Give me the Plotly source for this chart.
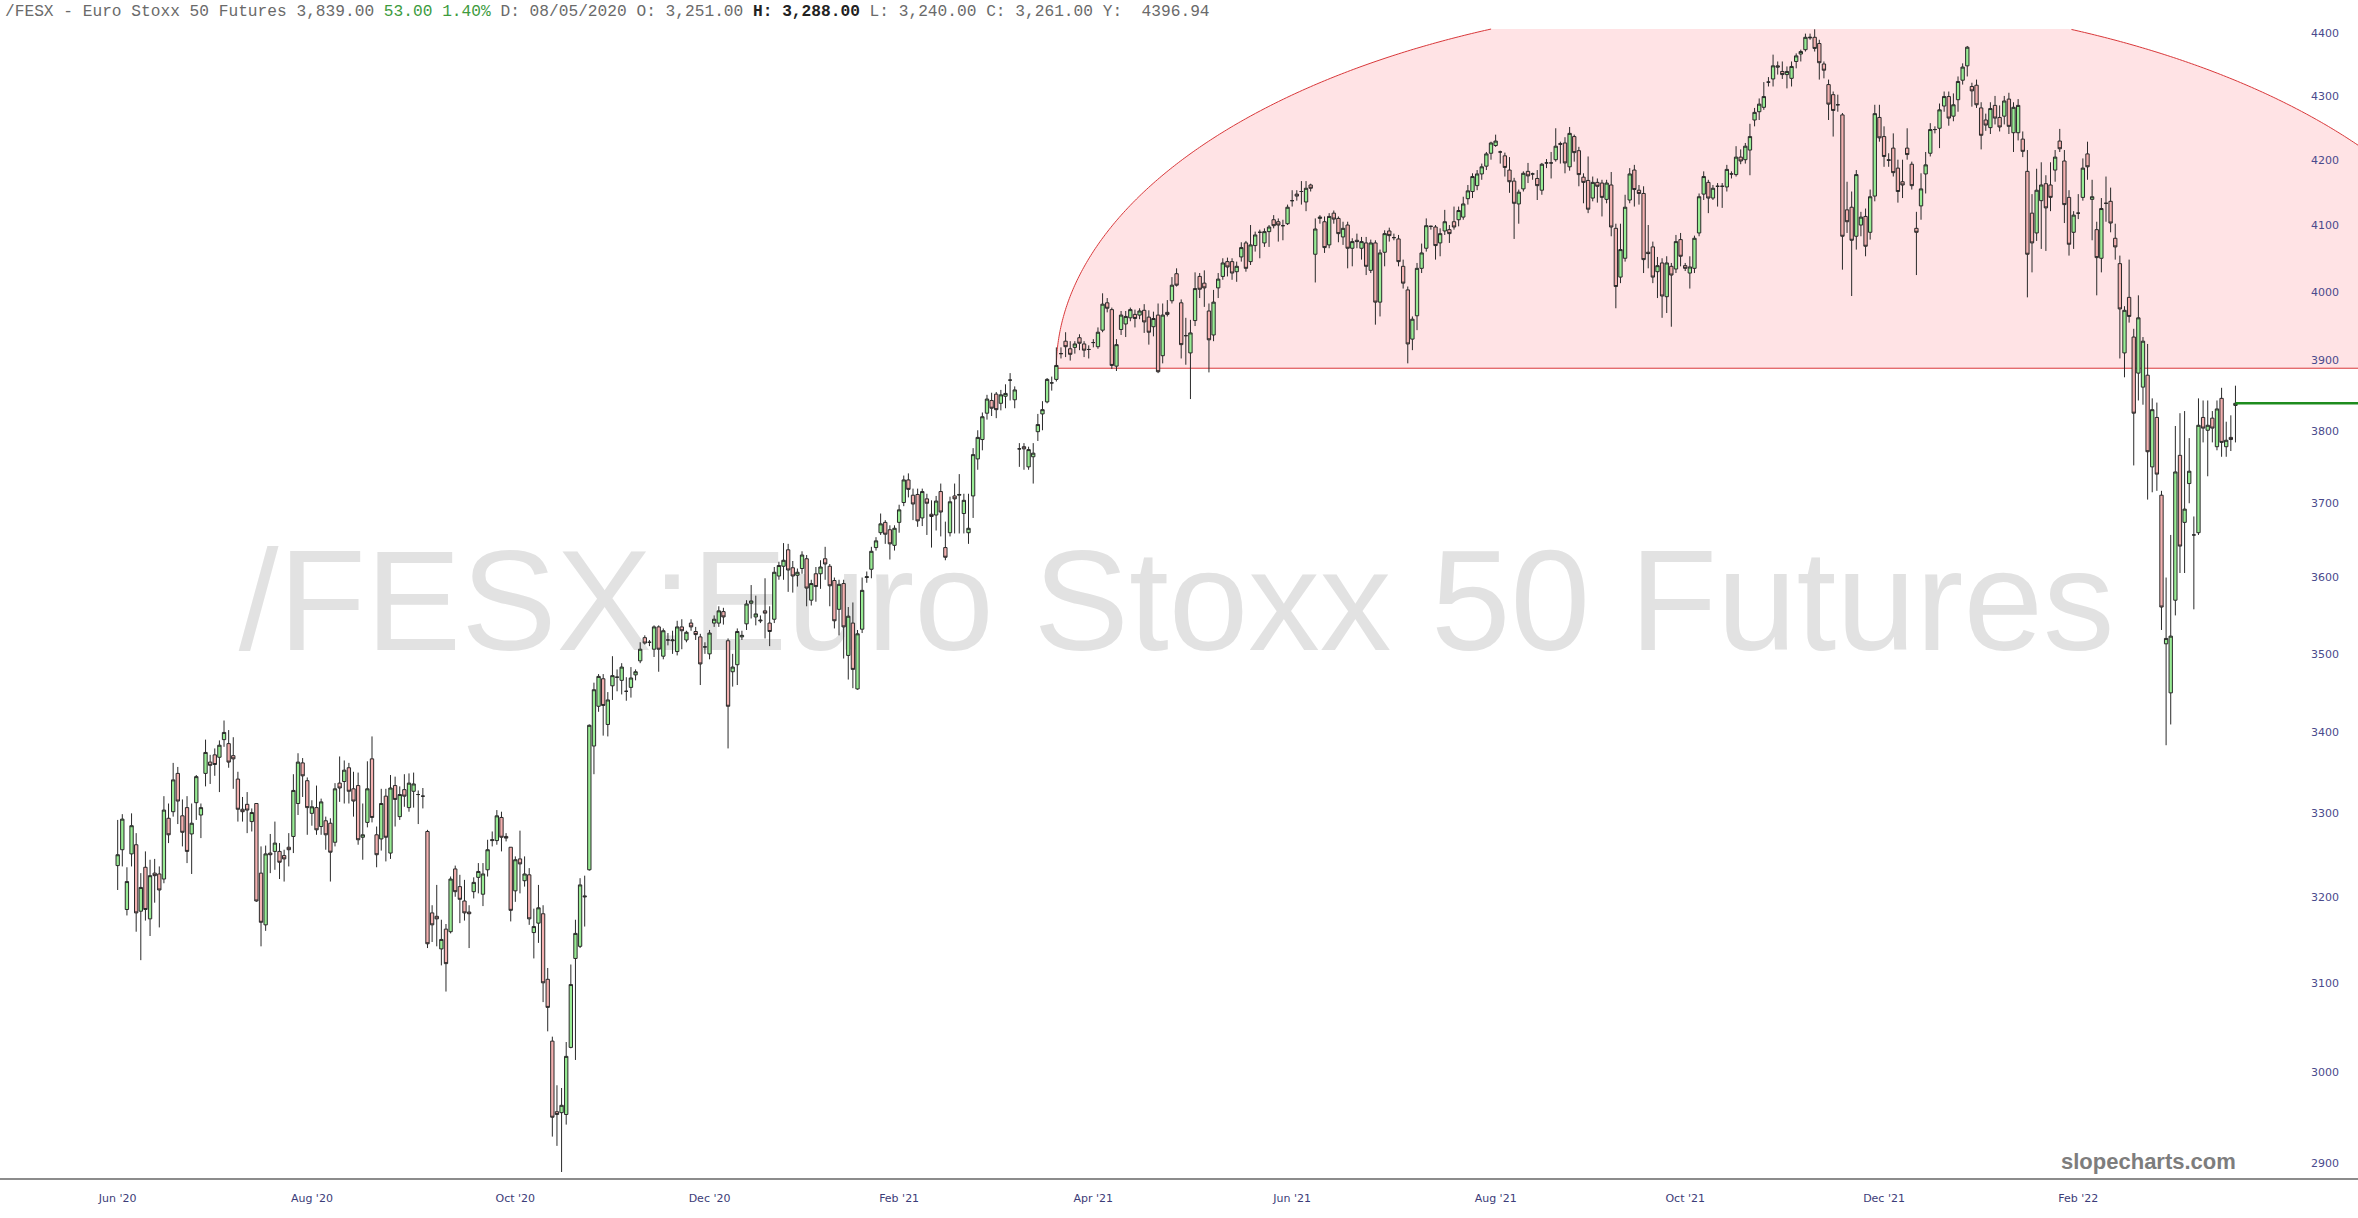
import numpy as np
import pandas as pd
import plotly.graph_objects as go

# ---------------- data ----------------
opens = [
 3237,3256,3185,3251,3262,3183,3235,3174,3228,3227, 3221,3294,3302,3349,3297,3307,3275,3313,3298,3349,
 3363,3372,3369,3391,3386,3371,3342,3305,3311,3290, 3312,3228,3167,3252,3254,3254,3249,3259,3272,3312,
 3362,3340,3300,3307,3284,3291,3288,3265,3337,3339, 3356,3330,3334,3271,3289,3367,3274,3269,3321,3252,
 3334,3296,3329,3307,3327,3323,3321,3278,3181,3177, 3139,3162,3159,3233,3212,3195,3182,3206,3223,3203,
 3232,3267,3267,3295,3272,3259,3207,3245,3219,3226, 3158,3169,3180,3104,3034,2956,2955,2953,3027,3128,
 3142,3201,3232,3383,3433,3468,3410,3459,3470,3466, 3452,3457,3473,3491,3521,3515,3506,3535,3497,3518,
 3517,3503,3535,3518,3540,3529,3522,3509,3500,3540, 3540,3555,3517,3477,3486,3522,3539,3566,3548,3544,
 3556,3540,3545,3602,3615,3637,3613,3603,3612,3625, 3570,3605,3605,3625,3615,3596,3558,3592,3498,3540,
 3455,3532,3600,3611,3640,3660,3674,3664,3643,3674, 3701,3732,3711,3712,3680,3706,3685,3684,3716,3640,
 3660,3710,3711,3686,3660,3710,3761,3788,3825,3843, 3852,3839,3849,3872,3844,3775,3778,3750,3764,3799,
 3824,3841,3868,3873,3910,3928,3917,3919,3933,3924, 3916,3926,3920,3944,3984,3974,3892,3945,3953,3962,
 3967,3966,3973,3963,3949,3966,3907,3970,3987,4027, 3984,3936,3911,3958,4023,4013,3972,3937,4006,4023,
 4045,4045,4030,4052,4073,4045,4069,4089,4073,4090, 4108,4105,4099,4102,4137,4147,4151,4135,4161,4056,
 4110,4105,4070,4118,4110,4082,4100,4065,4077,4065, 4073,4032,4073,3985,4059,4091,4081,4079,4038,4003,
 3931,3965,4035,4065,4098,4097,4073,4091,4093,4105, 4108,4112,4140,4151,4160,4178,4190,4210,4222,4212,
 4206,4184,4167,4132,4155,4182,4178,4171,4153,4195, 4195,4200,4225,4226,4189,4236,4214,4173,4168,4141,
 4165,4164,4139,4161,4095,4022,4050,4138,4184,4153, 4148,4059,4067,4030,4043,3993,4038,4034,4078,4039,
 4028,4035,4088,4147,4165,4141,4159,4159,4158,4178, 4177,4204,4200,4215,4262,4275,4282,4322,4327,4348,
 4339,4334,4328,4355,4367,4374,4393,4394,4384,4351, 4318,4302,4286,4270,4123,4127,4083,4100,4113,4089,
 4144,4266,4236,4200,4218,4187,4166,4218,4193,4095, 4129,4178,4210,4247,4249,4284,4299,4268,4294,4325,
 4348,4315,4317,4281,4262,4250,4285,4266,4268,4295, 4242,4242,4232,4182,4118,4088,4137,4163,4161,4184,
 4229,4198,4142,4089,4118,4142,4209,4139,4093,4050, 4133,4136,4080,4042,3911,3992,3934,3882,3862,3879,
 3750,3819,3711,3513,3450,3570,3766,3674,3727,3657, 3660,3819,3801,3818,3778,3846,3778,3791,3836,
]
highs = [
 3292,3299,3235,3300,3276,3228,3254,3244,3245,3236, 3321,3312,3362,3357,3317,3321,3312,3347,3312,3391,
 3372,3380,3390,3415,3403,3394,3351,3320,3326,3306, 3312,3260,3261,3275,3290,3264,3256,3276,3348,3374,
 3368,3344,3316,3334,3318,3296,3294,3337,3370,3365, 3362,3351,3350,3312,3364,3395,3284,3330,3330,3347,
 3345,3333,3348,3349,3350,3328,3331,3280,3190,3214, 3173,3168,3224,3237,3226,3220,3190,3223,3240,3240,
 3268,3278,3304,3302,3276,3259,3248,3279,3248,3234, 3186,3214,3190,3117,3039,2985,2982,3033,3121,3173,
 3222,3225,3410,3463,3474,3474,3451,3497,3480,3488, 3470,3483,3480,3515,3524,3518,3537,3537,3533,3527,
 3530,3543,3545,3530,3545,3535,3526,3515,3531,3550, 3562,3560,3520,3500,3533,3530,3570,3590,3576,3550,
 3599,3562,3614,3621,3646,3645,3622,3612,3635,3630, 3597,3614,3623,3641,3618,3600,3597,3597,3561,3567,
 3531,3600,3608,3641,3654,3686,3677,3670,3670,3698, 3738,3741,3720,3720,3720,3713,3704,3710,3727,3675,
 3709,3727,3740,3713,3713,3776,3801,3826,3851,3854, 3855,3858,3866,3882,3863,3783,3783,3778,3783,3824,
 3842,3875,3877,3919,3919,3941,3928,3928,3938,3928, 3922,3931,3948,3998,3991,3977,3931,3972,3972,3977,
 3974,3976,3982,3973,3971,3983,3983,3988,4022,4035, 3989,3962,3959,4029,4028,4032,3983,4003,4028,4050,
 4051,4050,4045,4074,4076,4100,4090,4093,4095,4100, 4115,4110,4108,4131,4153,4153,4167,4167,4163,4110,
 4115,4113,4118,4122,4113,4105,4105,4080,4087,4082, 4082,4078,4077,4063,4092,4096,4087,4085,4048,4008,
 3964,4043,4072,4110,4099,4100,4095,4123,4100,4128, 4128,4143,4161,4179,4184,4194,4212,4228,4239,4214,
 4211,4204,4172,4154,4182,4195,4180,4184,4195,4201, 4212,4249,4228,4235,4251,4239,4220,4179,4205,4174,
 4171,4169,4169,4181,4102,4102,4146,4187,4192,4161, 4159,4100,4075,4052,4050,4053,4043,4085,4088,4043,
 4053,4084,4148,4182,4169,4161,4164,4164,4192,4182, 4221,4216,4226,4256,4281,4296,4322,4330,4366,4355,
 4355,4347,4355,4368,4374,4400,4400,4407,4390,4355, 4326,4307,4302,4273,4166,4151,4184,4120,4125,4154,
 4286,4286,4252,4210,4241,4200,4200,4249,4197,4120, 4179,4212,4257,4252,4288,4307,4307,4304,4331,4352,
 4380,4321,4326,4290,4272,4290,4300,4285,4300,4305, 4290,4295,4244,4215,4147,4186,4196,4176,4196,4215,
 4248,4215,4153,4121,4147,4202,4228,4169,4105,4141, 4174,4157,4102,4054,3979,4048,3946,3995,3934,3924,
 3846,3840,3717,3600,3657,3807,3825,3828,3790,3682, 3846,3843,3843,3828,3843,3861,3813,3822,3864,
]
lows = [
 3208,3236,3178,3236,3159,3126,3172,3154,3193,3164, 3216,3264,3296,3287,3260,3240,3227,3292,3270,3333,
 3336,3346,3326,3382,3356,3330,3290,3290,3276,3278, 3194,3142,3160,3228,3232,3221,3218,3236,3252,3298,
 3320,3274,3285,3274,3274,3256,3218,3260,3314,3312, 3312,3296,3262,3244,3283,3289,3235,3255,3242,3245,
 3284,3292,3308,3302,3307,3287,3306,3140,3147,3142, 3120,3090,3157,3200,3169,3172,3140,3198,3204,3189,
 3224,3260,3262,3254,3266,3171,3194,3204,3212,3167, 3128,3146,3078,3045,2929,2919,2891,2942,3026,3013,
 3140,3165,3231,3348,3426,3396,3395,3441,3452,3448, 3440,3444,3466,3488,3512,3510,3496,3477,3493,3511,
 3500,3498,3506,3515,3530,3518,3460,3500,3493,3535, 3535,3538,3380,3458,3460,3518,3531,3546,3537,3540,
 3520,3510,3540,3597,3597,3581,3580,3588,3605,3562, 3563,3568,3585,3597,3562,3533,3524,3494,3467,3456,
 3454,3527,3593,3599,3636,3657,3645,3624,3636,3660, 3696,3708,3677,3668,3669,3657,3640,3663,3655,3623,
 3655,3659,3659,3659,3645,3680,3746,3773,3816,3821, 3818,3829,3832,3843,3832,3750,3746,3746,3727,3786,
 3801,3839,3857,3870,3903,3905,3900,3910,3915,3905, 3903,3919,3917,3941,3970,3888,3885,3937,3934,3957,
 3948,3960,3940,3923,3935,3882,3896,3964,3983,4008, 3903,3894,3845,3950,3991,3978,3883,3928,3991,4018,
 4023,4018,4015,4045,4030,4040,4060,4050,4067,4067, 4095,4075,4077,4100,4128,4137,4131,4121,4151,4014,
 4102,4058,4065,4102,4074,4070,4035,4038,4065,4048, 4025,4028,3952,3964,4038,4075,4077,4038,4005,3896,
 3915,3944,4028,4060,4093,4048,4053,4085,4073,4093, 4098,4108,4131,4141,4153,4169,4184,4200,4220,4194,
 4174,4149,4079,4102,4151,4164,4169,4138,4146,4187, 4171,4197,4194,4179,4183,4197,4159,4133,4118,4136,
 4134,4113,4133,4083,3976,4013,4045,4133,4128,4131, 4028,4035,4013,3991,3962,3969,3949,4028,4038,4031,
 4005,4028,4083,4138,4118,4138,4128,4126,4151,4171, 4174,4193,4194,4176,4252,4262,4278,4315,4315,4334,
 4327,4312,4315,4344,4355,4371,4390,4371,4326,4328, 4262,4236,4275,4033,4088,3994,4063,4083,4053,4078,
 4136,4228,4189,4189,4174,4134,4141,4200,4154,4025, 4108,4148,4205,4241,4218,4275,4253,4260,4275,4318,
 4331,4283,4281,4216,4245,4240,4255,4244,4255,4240, 4212,4230,4204,3992,4029,4076,4064,4061,4121,4166,
 4212,4103,4054,4064,4109,4137,4169,4077,3995,4029, 4105,4089,4048,3903,3876,3955,3752,3843,3837,3705,
 3715,3717,3531,3384,3410,3550,3606,3606,3700,3558, 3657,3784,3737,3784,3773,3764,3764,3772,3784,
]
closes = [
 3250,3293,3218,3285,3181,3211,3185,3225,3225,3208, 3304,3274,3341,3315,3277,3254,3288,3345,3307,3375,
 3359,3360,3384,3400,3363,3367,3305,3302,3304,3301, 3195,3170,3251,3250,3264,3241,3245,3256,3328,3363,
 3346,3307,3308,3280,3314,3274,3253,3330,3331,3353, 3327,3315,3268,3274,3330,3295,3250,3312,3271,3331,
 3317,3323,3321,3337,3336,3323,3321,3145,3167,3174, 3150,3122,3221,3206,3197,3181,3180,3217,3230,3227,
 3256,3268,3297,3271,3270,3184,3244,3239,3227,3174, 3165,3187,3100,3072,2950,2953,2963,3017,3098,3157,
 3214,3200,3409,3454,3471,3434,3441,3472,3470,3483, 3452,3469,3477,3506,3514,3515,3535,3506,3530,3518,
 3518,3535,3530,3528,3535,3525,3487,3509,3527,3545, 3556,3548,3433,3483,3529,3524,3565,3569,3552,3543,
 3553,3529,3607,3616,3623,3610,3602,3607,3630,3586, 3592,3588,3614,3618,3589,3543,3591,3535,3549,3480,
 3526,3583,3601,3635,3649,3672,3658,3645,3666,3691, 3732,3719,3699,3676,3716,3700,3682,3703,3688,3627,
 3702,3706,3712,3704,3666,3767,3791,3820,3845,3832, 3830,3851,3853,3872,3858,3775,3775,3774,3769,3809,
 3830,3873,3868,3893,3910,3920,3909,3924,3925,3915, 3916,3926,3941,3982,3976,3893,3923,3966,3964,3974,
 3961,3972,3956,3941,3961,3884,3966,3967,4010,4010, 3923,3936,3940,4005,4004,4006,3930,3985,4019,4043,
 4037,4028,4038,4066,4035,4070,4085,4089,4090,4097, 4099,4100,4099,4127,4137,4144,4151,4156,4156,4094,
 4112,4066,4113,4109,4087,4095,4065,4075,4075,4075, 4038,4073,3985,4058,4087,4084,4081,4045,4013,3924,
 3960,4035,4058,4099,4098,4069,4087,4105,4087,4097, 4122,4132,4152,4174,4178,4189,4209,4226,4229,4212,
 4188,4166,4133,4150,4179,4175,4178,4160,4193,4195, 4195,4221,4224,4195,4241,4211,4177,4165,4124,4165,
 4159,4142,4164,4097,4008,4063,4127,4178,4154,4148, 4048,4057,4022,4039,3994,4043,4025,4075,4053,4035,
 4037,4080,4143,4174,4141,4156,4159,4159,4185,4178, 4204,4198,4221,4236,4274,4287,4299,4322,4348,4346,
 4334,4339,4347,4364,4371,4394,4394,4376,4353,4341, 4287,4277,4286,4083,4105,4077,4177,4112,4068,4143,
 4272,4234,4205,4199,4180,4151,4161,4208,4160,4089, 4155,4192,4247,4247,4278,4299,4265,4286,4323,4346,
 4378,4308,4286,4238,4254,4280,4265,4251,4292,4252, 4282,4285,4213,4056,4073,4153,4161,4126,4142,4204,
 4217,4131,4071,4115,4118,4187,4189,4143,4051,4125, 4133,4103,4067,3975,3973,3964,3825,3962,3928,3771,
 3830,3740,3561,3520,3523,3743,3642,3692,3744,3657, 3808,3804,3808,3804,3831,3784,3787,3788,3839,
]

HOLIDAYS = ["2020-12-24", "2020-12-25", "2020-12-31", "2021-01-01",
            "2021-04-02", "2021-04-05", "2021-12-24", "2021-12-31"]
dates = pd.bdate_range("2020-06-18", periods=len(closes), freq="C",
                       holidays=HOLIDAYS).strftime("%Y-%m-%d").tolist()

tick_dates = ["2020-06-18", "2020-08-17", "2020-10-16", "2020-12-15", "2021-02-16",
              "2021-04-19", "2021-06-17", "2021-08-18", "2021-10-14", "2021-12-14", "2022-02-14"]
tick_labels = ["Jun '20", "Aug '20", "Oct '20", "Dec '20", "Feb '21",
               "Apr '21", "Jun '21", "Aug '21", "Oct '21", "Dec '21", "Feb '22"]
y_ticks = [2900, 3000, 3100, 3200, 3300, 3400, 3500, 3600, 3700, 3800, 3900, 4000, 4100, 4200, 4300, 4400]

last_price = 3839.00
zone_level = 3889
zone_start = "2021-04-07"

# ---------------- layout geometry ----------------
W, H = 2358, 1218
M_T, M_B = 29, 40
PH = H - M_T - M_B
X_RANGE = [-25.45, 484.5]
Y_RANGE = [2884.6, 4407.5]
LY0, LY1 = np.log10(Y_RANGE[0]), np.log10(Y_RANGE[1])


def xp(i):
    return (i - X_RANGE[0]) / (X_RANGE[1] - X_RANGE[0])


def yp(p):
    return (np.log10(p) - LY0) / (LY1 - LY0)


fig = go.Figure()
fig.add_trace(go.Candlestick(
    x=dates, open=opens, high=highs, low=lows, close=closes,
    increasing=dict(fillcolor="#98ec94", line=dict(color="#2a2a2a", width=1)),
    decreasing=dict(fillcolor="#f4b0b0", line=dict(color="#2a2a2a", width=1)),
    whiskerwidth=0, hoverinfo="skip", showlegend=False,
))

# ---- resistance dome (half ellipse sitting on the zone level) ----
i0 = dates.index(zone_start)
xl = xp(i0)
yb = yp(zone_level)
a = 724 / W
b = 370 / PH
cx = xl + a
th_end = np.arccos((1 - cx) / a)
th = np.linspace(np.pi, th_end, 500)
ex = cx + a * np.cos(th)
ey = yb + b * np.sin(th)
eyc = np.minimum(ey, 1.0)
fill_path = "M %.5f,%.5f " % (xl, yb) + " ".join("L %.5f,%.5f" % (x, y) for x, y in zip(ex, eyc)) \
    + " L 1,%.5f Z" % yb
fig.add_shape(type="path", path=fill_path, xref="paper", yref="paper",
              fillcolor="#ffe3e5", line=dict(width=0), layer="below")
segs = []
pen = False
for x, y in zip(ex, ey):
    if y <= 1.0:
        segs.append(("L" if pen else "M") + " %.5f,%.5f" % (x, y))
        pen = True
    else:
        pen = False
segs.append("M %.5f,%.5f L 1,%.5f" % (xl, yb, yb))
fig.add_shape(type="path", path=" ".join(segs), xref="paper", yref="paper",
              line=dict(color="#d9383a", width=1), layer="below")

# ---- last price line ----
fig.add_shape(type="line", xref="paper", yref="paper",
              x0=xp(len(closes) - 1), x1=1, y0=yp(last_price), y1=yp(last_price),
              line=dict(color="#1e8c1e", width=2.5))

# ---- watermark (behind candles) ----
fig.add_shape(type="rect", xref="paper", yref="paper", x0=0.0, x1=0.998, y0=0.43, y1=0.60,
              line=dict(width=0), fillcolor="rgba(0,0,0,0)", layer="below",
              label=dict(text="/FESX:Euro Stoxx 50 Futures", textposition="middle center",
                         font=dict(family="Liberation Sans", size=143, color="#e2e2e2")))

header = ("/FESX - Euro Stoxx 50 Futures 3,839.00 "
          "<span style='color:#3d9b3d'>53.00 1.40%</span> D: 08/05/2020 O: 3,251.00 "
          "<b style='color:#222'>H: 3,288.00</b> L: 3,240.00 C: 3,261.00 Y:  4396.94")
fig.add_annotation(text=header, xref="paper", yref="paper", x=0, y=1 + 17 / PH,
                   xanchor="left", yanchor="middle", xshift=3, showarrow=False,
                   font=dict(family="Liberation Mono", size=16.2, color="#6a6a6a"))
fig.add_annotation(text="<b>slopecharts.com</b>", xref="paper", yref="paper",
                   x=2148 / W, y=17 / PH, xanchor="center", yanchor="middle", showarrow=False,
                   font=dict(family="Liberation Sans", size=22, color="#7d7d7d"))

fig.update_layout(
    width=W, height=H,
    margin=dict(l=0, r=0, t=M_T, b=M_B, autoexpand=False),
    paper_bgcolor="white", plot_bgcolor="white",
    boxgap=0.28, boxgroupgap=0,
    showlegend=False,
    xaxis=dict(type="category", range=X_RANGE, rangeslider=dict(visible=False),
               tickvals=tick_dates, ticktext=tick_labels, ticks="", showgrid=False,
               showline=True, linecolor="#8c8c8c", linewidth=2, zeroline=False,
               tickfont=dict(family="DejaVu Sans", size=11, color="#3c3c78"),
               ticklabelstandoff=9),
    yaxis=dict(type="log", range=[LY0, LY1], side="right", ticklabelposition="inside",
               ticklabeloverflow="allow",
               tickvals=y_ticks, ticktext=[str(v) for v in y_ticks], ticks="",
               showgrid=False, zeroline=False, showline=False,
               tickfont=dict(family="DejaVu Sans", size=11, color="#4a4a8c"),
               ticklabelstandoff=16),
)

fig.write_html("out.html", config={"displayModeBar": False},
               post_script="document.body.style.margin='0';document.body.style.overflow='hidden';")
